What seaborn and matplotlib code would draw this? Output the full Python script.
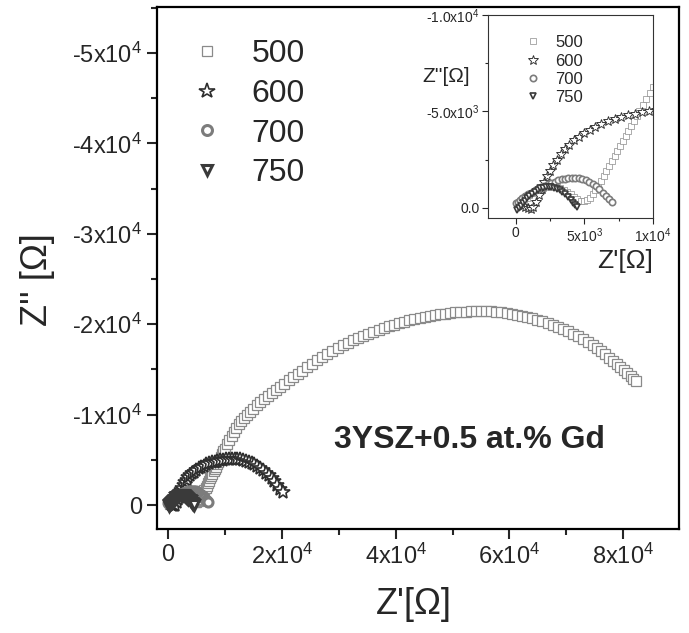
import matplotlib
matplotlib.use("Agg")
import matplotlib.pyplot as plt
from matplotlib.ticker import MultipleLocator
import seaborn as sns

# temperatures (legend labels)
temps = ["500", "600", "700", "750"]

# Nyquist data: Z' and Z'' in Ohm
z_re_500 = [400, 600, 800, 1000, 1250, 1500, 1750, 2000, 2250, 2500, 2750, 3000, 3250, 3500, 3750, 4000, 4250, 4500, 4750,
            5000, 5200, 5400, 5600, 5800, 6000, 6200, 6400, 6600, 6800, 7000, 7200, 7400, 7600, 7800, 8000, 8200, 8400,
            8600, 8800, 9000, 9250, 9500, 9750,
            10000, 10400, 10800, 11200, 11600, 12000, 12450, 12900, 13400, 13900, 14450, 15000, 15600, 16200, 16850,
            17500, 18200, 18900, 19650, 20400, 21200, 22000,
            22800, 23600, 24450, 25300, 26200, 27100, 28000, 28900, 29800, 30700, 31600, 32500, 33400, 34300, 35200,
            36100, 37000, 37900, 38800, 39700, 40600, 41500, 42400, 43300, 44200, 45100, 46000, 46900, 47800, 48700,
            49600, 50500, 51400, 52300, 53200, 54100,
            55000, 55900, 56800, 57700, 58600, 59500, 60400, 61300, 62200, 63100, 64000, 64900, 65800, 66700, 67600,
            68500, 69400, 70300, 71200, 72100, 73000, 73800, 74600, 75400, 76100, 76800, 77500, 78200, 78900, 79500,
            80100, 80700, 81300, 81800, 82200]
z_im_500 = [-150, -350, -520, -660, -800, -910, -1000, -1060, -1100, -1120, -1110, -1080, -1020, -940, -840, -720, -590,
            -470, -380,
            -340, -400, -540, -720, -930, -1160, -1400, -1650, -1900, -2160, -2420, -2680, -2940, -3200, -3460, -3720,
            -3980, -4240, -4500, -4760, -5010, -5330, -5640, -5950,
            -6250, -6730, -7200, -7660, -8100, -8510, -8920, -9290, -9650, -9990, -10340, -10680, -11030, -11370,
            -11720, -12060, -12410, -12750, -13100, -13440, -13790, -14130,
            -14500, -14880, -15270, -15640, -16010, -16370, -16720, -17050, -17370, -17670, -17950, -18220, -18470,
            -18710, -18940, -19160, -19370, -19570, -19760, -19940, -20110, -20270, -20420, -20560, -20690, -20810,
            -20920, -21020, -21110, -21190, -21260, -21320, -21370, -21410, -21440, -21460,
            -21470, -21460, -21430, -21390, -21330, -21260, -21170, -21070, -20950, -20820, -20680, -20520, -20350,
            -20160, -19950, -19730, -19490, -19230, -18950, -18650, -18330, -18020, -17690, -17340, -17010, -16670,
            -16320, -15960, -15590, -15270, -14940, -14600, -14260, -13970, -13730]

z_re_600 = [500, 700, 900, 1100, 1300, 1500, 1700, 1900, 2100, 2300, 2500, 2750, 3000, 3300, 3600, 3900, 4250, 4600,
            5000, 5400, 5800, 6250, 6700, 7200, 7700, 8200, 8700, 9200, 9700, 10200, 10700, 11200, 11700, 12200,
            12700, 13200, 13700, 14200, 14700, 15200, 15700, 16200, 16700, 17200, 17700, 18200, 18700, 19200, 19700,
            20200]
z_im_600 = [-100, -50, 0, 50, -50, -300, -650, -1000, -1330, -1640, -1920, -2230, -2500, -2790, -3050, -3280, -3500,
            -3700, -3890, -4060, -4210, -4360, -4490, -4610, -4720, -4810, -4890, -4960, -5020, -5070, -5100, -5120,
            -5120, -5100, -5060, -4990, -4900, -4790, -4660, -4500, -4320, -4110, -3870, -3600, -3300, -2970, -2610,
            -2230, -1830, -1450]

z_re_700 = [0, 150, 300, 500, 700, 900, 1100, 1350, 1600, 1850, 2100, 2350, 2600, 2850, 3100, 3350, 3600, 3850, 4100,
            4350, 4600, 4850, 5100, 5350, 5600, 5850, 6100, 6350, 6600, 6800, 7000]
z_im_700 = [-250, -330, -420, -520, -610, -700, -790, -890, -980, -1070, -1150, -1230, -1300, -1370, -1430, -1480,
            -1520, -1550, -1560, -1560, -1540, -1500, -1440, -1360, -1260, -1130, -980, -800, -610, -450, -300]

z_re_750 = [100, 250, 400, 550, 700, 850, 1000, 1200, 1400, 1600, 1800, 2000, 2200, 2400, 2600, 2800, 3000, 3200,
            3400, 3600, 3800, 4000, 4200, 4350, 4500]
z_im_750 = [100, 0, -120, -250, -380, -500, -610, -740, -850, -940, -1010, -1060, -1090, -1100, -1090, -1060, -1000,
            -920, -820, -700, -560, -410, -260, -140, -40]

z_re = [z_re_500, z_re_600, z_re_700, z_re_750]
z_im = [z_im_500, z_im_600, z_im_700, z_im_750]

# marker looks per series
styles = {
    "500": dict(marker="s", color="#8a8a8a", ms=7.0, mew=0.9),
    "600": dict(marker="*", color="#2e2e2e", ms=10.5, mew=1.2),
    "700": dict(marker="o", color="#7c7c7c", ms=6.5, mew=2.2),
    "750": dict(marker="v", color="#3a3a3a", ms=7.0, mew=2.2),
}

sns.set_style("ticks")
plt.rcParams["font.family"] = ["Liberation Sans", "DejaVu Sans"]
plt.rcParams["mathtext.fontset"] = "custom"
plt.rcParams["mathtext.rm"] = "Liberation Sans"
plt.rcParams["mathtext.it"] = "Liberation Sans:italic"
plt.rcParams["mathtext.bf"] = "Liberation Sans:bold"


def draw_series(ax, ms_scale, mew_scale):
    for t, zr, zi in zip(temps, z_re, z_im):
        st = styles[t]
        sns.lineplot(x=zr, y=zi, ax=ax, sort=False, estimator=None, linestyle="",
                     marker=st["marker"], markersize=st["ms"] * ms_scale,
                     markerfacecolor="white", markeredgecolor=st["color"],
                     markeredgewidth=st["mew"] * mew_scale, color=st["color"], label=t)


fig = plt.figure(figsize=(6.89, 6.33), dpi=100)
ax = fig.add_axes([157 / 689, 1 - 529 / 633, 522 / 689, 522 / 633])

draw_series(ax, 1.0, 1.0)

ax.set_xlim(-1930, 89800)
ax.set_ylim(2650, -55100)
ax.set_xticks([0, 20000, 40000, 60000, 80000],
              ["0", "2x10$^{4}$", "4x10$^{4}$", "6x10$^{4}$", "8x10$^{4}$"])
ax.set_yticks([0, -10000, -20000, -30000, -40000, -50000],
              ["0", "-1x10$^{4}$", "-2x10$^{4}$", "-3x10$^{4}$", "-4x10$^{4}$", "-5x10$^{4}$"])
ax.xaxis.set_minor_locator(MultipleLocator(10000))
ax.yaxis.set_minor_locator(MultipleLocator(5000))
ax.tick_params(which="major", length=7, width=1.5, labelsize=17, direction="out")
ax.tick_params(which="minor", length=4, width=1.5, direction="out")
for sp in ax.spines.values():
    sp.set_linewidth(1.6)
    sp.set_color("black")

ax.set_xlabel("Z'[\u03a9]", fontsize=26)
ax.set_ylabel("Z'' [\u03a9]", fontsize=26)
ax.xaxis.set_label_coords(0.492, -0.112)
ax.yaxis.set_label_coords(-0.195, 0.477)

ax.text(0.598, 0.170, "3YSZ+0.5 at.% Gd", transform=ax.transAxes, fontsize=23,
        fontweight="bold", ha="center", va="center")

ax.legend(loc="upper left", bbox_to_anchor=(0.065, 0.938), frameon=False, fontsize=23,
          handlelength=1.0, handletextpad=0.9, labelspacing=0.3, borderpad=0,
          borderaxespad=0, markerscale=1.1)

# inset: zoom on the high-frequency part
axins = fig.add_axes([488 / 689, 1 - 218 / 633, 165 / 689, 203 / 633])
draw_series(axins, 0.7, 0.55)
axins.set_xlim(-2000, 10000)
axins.set_ylim(520, -10000)
axins.set_xticks([0, 5000, 10000], ["0", "5x10$^{3}$", "1x10$^{4}$"])
axins.set_yticks([0, -5000, -10000], ["0.0", "-5.0x10$^{3}$", "-1.0x10$^{4}$"])
axins.xaxis.set_minor_locator(MultipleLocator(2500))
axins.yaxis.set_minor_locator(MultipleLocator(2500))
axins.tick_params(which="major", length=4, width=0.8, labelsize=10, direction="out", pad=2)
axins.tick_params(which="minor", length=2.5, width=0.8, direction="out")
for sp in axins.spines.values():
    sp.set_linewidth(0.8)
    sp.set_color("#333333")
axins.set_xlabel("")
axins.set_ylabel("")
fig.text(446 / 689, 1 - 77 / 633, "Z''[\u03a9]", fontsize=15, ha="center", va="center")
fig.text(653 / 689, 1 - 261 / 633, "Z'[\u03a9]", fontsize=19, ha="right", va="center")
axins.legend(loc="upper left", bbox_to_anchor=(0.22, 0.90), frameon=False, fontsize=12,
             handlelength=1.0, handletextpad=0.85, labelspacing=0.2, borderpad=0,
             borderaxespad=0, markerscale=1.0)

fig.savefig("out.png", dpi=100)
